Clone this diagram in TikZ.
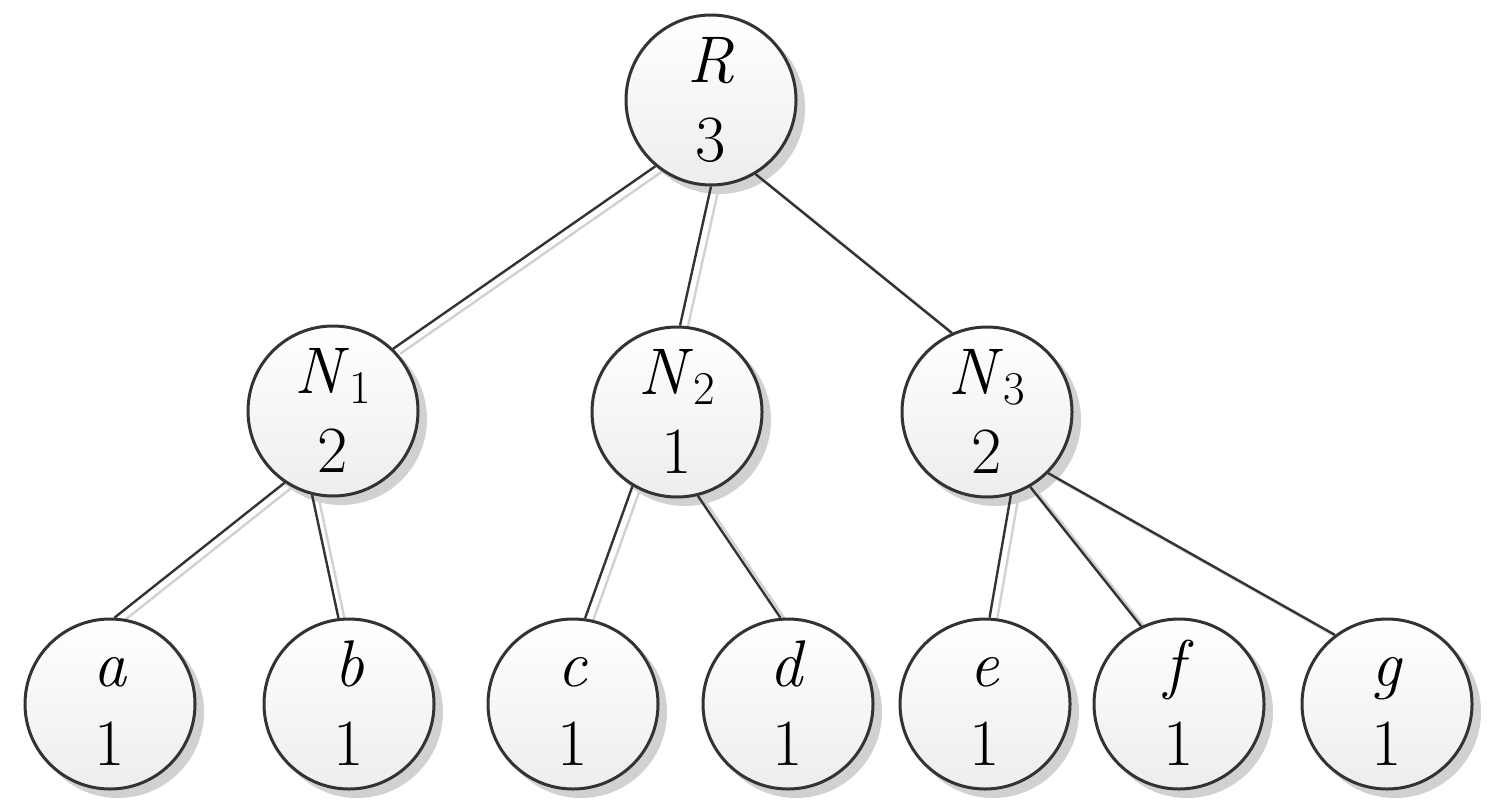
\documentclass[tikz,border=0pt]{standalone}
\usepackage{fontspec}
\pgfdeclarelayer{background}
\pgfsetlayers{background,main}
\newcommand{\twol}[2]{\raisebox{0pt}[0.68em][0pt]{#1}\\#2}
\newcommand{\subn}[1]{\textit{N}\raisebox{-5pt}{\fontsize{23.5}{24}\selectfont #1}}
\begin{document}
\begin{tikzpicture}[x=0.5pt,y=-0.5pt,
  tn/.style={circle, draw=black!80, line width=1.5pt, top color=white, bottom color=black!7,
    minimum size=85pt, inner sep=0pt, align=center, font=\fontsize{33}{39.5}\selectfont},
  edge/.style={draw=black!80, line width=1.2pt},
  eshadow/.style={draw=black!18, line width=1.2pt},
  cshadow/.style={fill=black!18}]
\useasboundingbox (0,0) rectangle (1491,809);
\node[tn] (R)  at (711,100) {\twol{\textit{R}}{3}};
\node[tn] (N1) at (333,411) {\twol{\subn{1}}{2}};
\node[tn] (N2) at (677,412) {\twol{\subn{2}}{1}};
\node[tn] (N3) at (987,412) {\twol{\subn{3}}{2}};
\node[tn] (a) at (110,704) {\twol{\textit{a}}{1}};
\node[tn] (b) at (349,704) {\twol{\textit{b}}{1}};
\node[tn] (c) at (573,704) {\twol{\textit{c}}{1}};
\node[tn] (d) at (788,704) {\twol{\textit{d}}{1}};
\node[tn] (e) at (985,704) {\twol{\textit{e}}{1}};
\node[tn] (f) at (1179,704) {\twol{\textit{f}}{1}};
\node[tn] (g) at (1387,704) {\twol{\textit{g}}{1}};
\begin{pgfonlayer}{background}
  \foreach \n in {R,N1,N2,N3,a,b,c,d,e,f,g}
    \fill[cshadow] ([shift={(4pt,-4pt)}]\n.center) circle (43pt);
  \foreach \s/\sa/\t/\ta in {R/230/N1/46, R/270/N2/88, R/301/N3/114,
      N1/236/a/87, N1/256/b/97, N2/239/c/82, N2/284/d/95,
      N3/286/e/87, N3/300/f/116, N3/315/g/127}{
    \draw[eshadow] ([shift={(3.5pt,-2.5pt)}]\s.\sa) -- ([shift={(3.5pt,-2.5pt)}]\t.\ta);
    \draw[edge] (\s.\sa) -- (\t.\ta);
  }
\end{pgfonlayer}
\end{tikzpicture}
\end{document}
